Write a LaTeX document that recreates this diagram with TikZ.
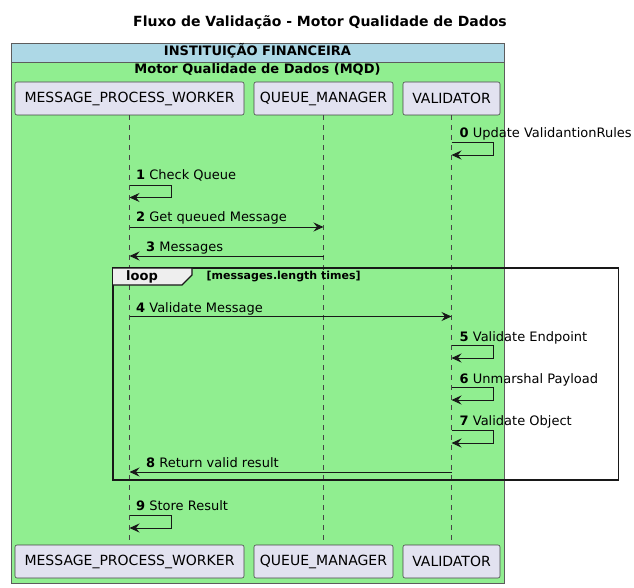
\documentclass[tikz,border=0pt]{standalone}
\usepackage{fontspec}
\setmainfont{DejaVu Sans}
\usetikzlibrary{arrows.meta}

\definecolor{mqdgreen}{HTML}{90EE90}
\definecolor{instblue}{HTML}{ADD8E6}
\definecolor{partfill}{HTML}{E2E2F0}
\definecolor{darkline}{HTML}{181818}
\definecolor{tabfill}{HTML}{EEEEEE}

\tikzset{
  participant/.style={draw=darkline!80, fill=partfill, rounded corners=2pt,
    minimum height=33pt, inner sep=0pt, line width=0.6pt,
    font=\fontsize{14}{16}\selectfont},
  lifeline/.style={draw=darkline!80, dash pattern=on 5pt off 5pt, line width=0.6pt},
  msg/.style={draw=darkline, line width=0.9pt,
    -{Stealth[length=10pt,width=9pt,inset=3.5pt]}},
  msglabel/.style={anchor=base west, inner sep=0pt, font=\fontsize{13}{15}\selectfont},
  boxtitle/.style={font=\bfseries\fontsize{13}{15}\selectfont, inner sep=0pt},
}

\begin{document}
\begin{tikzpicture}[x=1pt,y=-1pt]
\useasboundingbox (0,0) rectangle (634,588);

\node[font=\bfseries\fontsize{14}{16}\selectfont] (title) at (320,22)
  {Fluxo de Validação - Motor Qualidade de Dados};

% boxes
\fill[mqdgreen] (11,62) rectangle (504,583);
\fill[instblue] (11,43) rectangle (504,62);
\draw[darkline!70, line width=0.8pt] (11,43) rectangle (504,583);
\draw[darkline!70, line width=0.8pt] (11,62) -- (504,62);
\node[boxtitle] (inst) at (257.5,51) {INSTITUIÇÃO FINANCEIRA};
\node[boxtitle] (mqd) at (257.5,70) {Motor Qualidade de Dados (MQD)};

% participants
\node[participant, minimum width=229pt] (worker) at (129.5,98.5) {MESSAGE\_PROCESS\_WORKER};
\node[participant, minimum width=139pt] (queue) at (323.5,98.5) {QUEUE\_MANAGER};
\node[participant, minimum width=97pt] (valid) at (451.5,98.5) {VALIDATOR};
\node[participant, minimum width=229pt] (workerB) at (129.5,561.5) {MESSAGE\_PROCESS\_WORKER};
\node[participant, minimum width=139pt] (queueB) at (323.5,561.5) {QUEUE\_MANAGER};
\node[participant, minimum width=97pt] (validB) at (451.5,561.5) {VALIDATOR};

\draw[lifeline] (worker) -- (workerB);
\draw[lifeline] (queue) -- (queueB);
\draw[lifeline] (valid) -- (validB);

% loop frame
\draw[darkline, line width=1.4pt] (113,268) rectangle (618.5,480);
\draw[darkline, fill=tabfill, line width=1.2pt] (113,268) -- (192,268) -- (192,275)
  -- (182,285) -- (113,285);
\node[font=\bfseries\fontsize{13}{15}\selectfont, anchor=west, inner sep=0pt] (looptag)
  at (126,276.5) {loop};
\node[font=\bfseries\fontsize{11}{13}\selectfont, anchor=west, inner sep=0pt] (loopcond)
  at (206.5,277) {[messages.length times]};

% points on the lifelines
\coordinate (v0a) at (451.5,142.5);  \coordinate (v0b) at (451.5,155);
\coordinate (w1a) at (129.5,185);    \coordinate (w1b) at (129.5,197.5);
\coordinate (w2) at (129.5,227);     \coordinate (q2) at (323.5,227);
\coordinate (q3) at (323.5,256);     \coordinate (w3) at (129.5,256);
\coordinate (w4) at (129.5,316.5);   \coordinate (v4) at (451.5,316.5);
\coordinate (v5a) at (451.5,345.5);  \coordinate (v5b) at (451.5,358);
\coordinate (v6a) at (451.5,387.5);  \coordinate (v6b) at (451.5,400);
\coordinate (v7a) at (451.5,430.5);  \coordinate (v7b) at (451.5,443);
\coordinate (v8) at (451.5,472);     \coordinate (w8) at (129.5,472);
\coordinate (w9a) at (129.5,515);    \coordinate (w9b) at (129.5,528);

% messages
\draw[msg] (v0a) -- ++(42,0) |- (v0b);
\node[msglabel] (l0) at (459.5,138) {\textbf{0} Update ValidantionRules};

\draw[msg] (w1a) -- ++(42,0) |- (w1b);
\node[msglabel] (l1) at (136,180) {\textbf{1} Check Queue};

\draw[msg] (w2) -- (q2);
\node[msglabel] (l2) at (136,222) {\textbf{2} Get queued Message};

\draw[msg] (q3) -- (w3);
\node[msglabel] (l3) at (146,251) {\textbf{3} Messages};

\draw[msg] (w4) -- (v4);
\node[msglabel] (l4) at (136,312) {\textbf{4} Validate Message};

\draw[msg] (v5a) -- ++(42,0) |- (v5b);
\node[msglabel] (l5) at (459.5,341) {\textbf{5} Validate Endpoint};

\draw[msg] (v6a) -- ++(42,0) |- (v6b);
\node[msglabel] (l6) at (459.5,383) {\textbf{6} Unmarshal Payload};

\draw[msg] (v7a) -- ++(42,0) |- (v7b);
\node[msglabel] (l7) at (459.5,425.5) {\textbf{7} Validate Object};

\draw[msg] (v8) -- (w8);
\node[msglabel] (l8) at (146,467.5) {\textbf{8} Return valid result};

\draw[msg] (w9a) -- ++(42,0) |- (w9b);
\node[msglabel] (l9) at (136,510) {\textbf{9} Store Result};
\end{tikzpicture}
\end{document}
